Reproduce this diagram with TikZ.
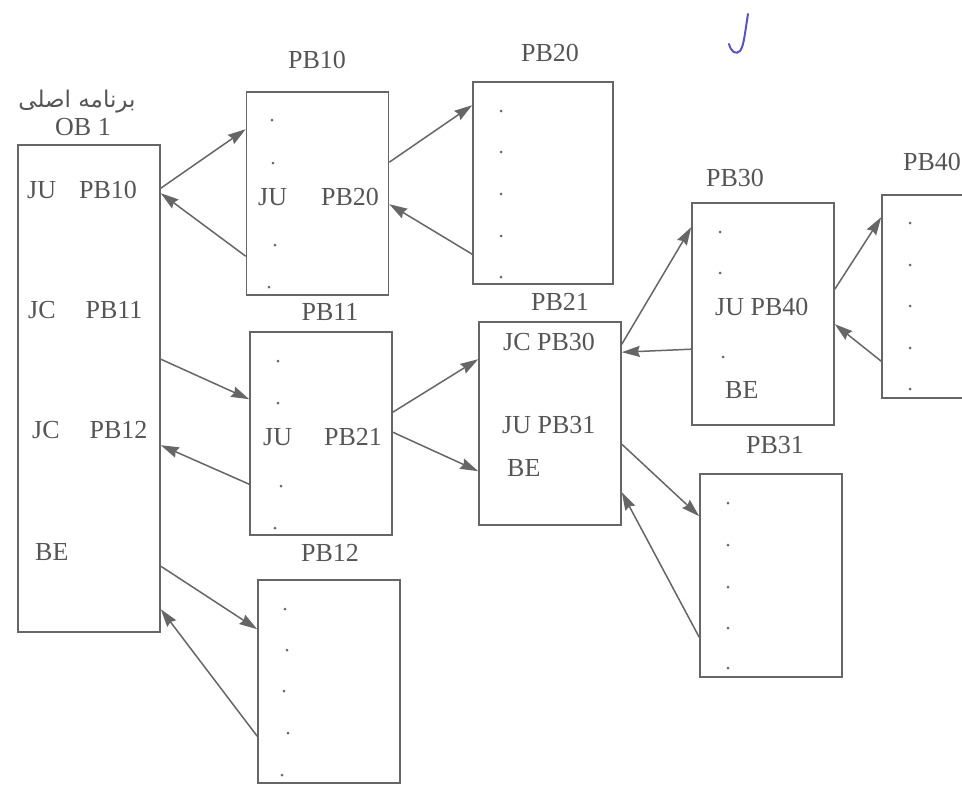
\documentclass[tikz,border=0pt]{standalone}
\usepackage{fontspec}
\setmainfont{Liberation Serif}
\newfontfamily\arabicfont[Script=Arabic]{DejaVu Sans}
\TeXXeTstate=1
\usepackage{xcolor}
\usepackage{tikz}
\usetikzlibrary{arrows.meta,positioning,calc}

\definecolor{inkgray}{HTML}{555555}
\definecolor{linegray}{HTML}{666666}
\definecolor{penblue}{HTML}{5B52C6}

\begin{document}
\begin{tikzpicture}[x=1pt,y=-1pt,
  every node/.style={font=\fontsize{26}{30}\selectfont,text=inkgray},
  blk/.style={draw=linegray,line width=1.6pt,rectangle,inner sep=0pt,minimum width=142pt,minimum height=203pt},
  conn/.style={-{Stealth[length=18pt,width=11pt,inset=2pt]},draw=linegray,fill=linegray,line width=1.5pt},
  txt/.style={anchor=west,inner sep=0pt}]
  \useasboundingbox (0,0) rectangle (962,809);
  \clip (0,0) rectangle (962,809);

  \node[blk,minimum height=487pt] (ob1) at (89,388.5) {};
  \node[blk] (pb10) at (317.5,193.5) {};
  \node[blk,minimum width=140pt,minimum height=202pt] (pb20) at (543,183) {};
  \node[blk] (pb11) at (321,433.5) {};
  \node[blk] (pb12) at (329,681.5) {};
  \node[blk] (pb21) at (550,423.5) {};
  \node[blk,minimum height=222pt] (pb30) at (763,314) {};
  \node[blk] (pb31) at (771,575.5) {};
  \node[blk,minimum width=140pt] (pb40) at (952,296.5) {};

  \node[font=\arabicfont\fontsize{23}{26}\selectfont] (ob1fa) at (77,102) {\beginR برنامه اصلی\endR};
  \node (ob1lbl) at (83,127) {OB 1};
  \node (pb10lbl) at (317,60) {PB10};
  \node (pb20lbl) at (550,53) {PB20};
  \node (pb11lbl) at (330,312) {PB11};
  \node (pb21lbl) at (560,302) {PB21};
  \node (pb12lbl) at (330,553) {PB12};
  \node (pb30lbl) at (735,178) {PB30};
  \node (pb31lbl) at (775,445) {PB31};
  \node (pb40lbl) at (932,162) {PB40};

  \node[txt] (ju10) at (27,190) {JU\hspace{23pt}PB10};
  \node[txt] (jc11) at (28,310) {JC\hspace{30pt}PB11};
  \node[txt] (jc12) at (32,430) {JC\hspace{30pt}PB12};
  \node[txt] (be1) at (35,552) {BE};
  \node[txt] (ju20) at (258,197) {JU\hspace{34pt}PB20};
  \node[txt] (ju21) at (263,437) {JU\hspace{32pt}PB21};
  \node[txt] (jc30) at (503,342) {JC PB30};
  \node[txt] (ju31) at (502,425) {JU PB31};
  \node[txt] (be21) at (507,468) {BE};
  \node[txt] (ju40) at (715,307) {JU PB40};
  \node[txt] (be30) at (725,390) {BE};

  \foreach \x/\y in {272/120,273/163,275/245,269/287,
                     278/361,278/403,281/486,275/528,
                     285/609,287/650,284/691,288/733,282/775,
                     720/232,720/273,723/357}
    \fill[linegray] (\x,\y) circle (1.5pt);
  \foreach \y in {111,152,194,236,277} \fill[linegray] (501,\y) circle (1.5pt);
  \foreach \y in {503,545,587,628,668} \fill[linegray] (728,\y) circle (1.5pt);
  \foreach \y in {223,265,306,348,389} \fill[linegray] (910,\y) circle (1.5pt);

  \draw[conn] ($(ob1.north east)+(0,44)$) -- ($(pb10.north west)+(0,38)$);
  \draw[conn] ($(pb10.north west)+(0,165)$) -- ($(ob1.north east)+(0,49)$);
  \draw[conn] ($(ob1.north east)+(0,215)$) -- ($(pb11.north west)+(0,68)$);
  \draw[conn] ($(pb11.north west)+(0,153)$) -- ($(ob1.north east)+(0,301)$);
  \draw[conn] ($(ob1.north east)+(0,422)$) -- ($(pb12.north west)+(0,50)$);
  \draw[conn] ($(pb12.north west)+(0,157)$) -- ($(ob1.north east)+(0,465)$);
  \draw[conn] ($(pb10.north east)+(0,71)$) -- ($(pb20.north west)+(0,24)$);
  \draw[conn] ($(pb20.north west)+(0,173)$) -- ($(pb10.north east)+(0,113)$);
  \draw[conn] ($(pb11.north east)+(0,81)$) -- ($(pb21.north west)+(0,38)$);
  \draw[conn] ($(pb11.north east)+(0,101)$) -- ($(pb21.north west)+(0,150)$);
  \draw[conn] ($(pb21.north east)+(0,23)$) -- ($(pb30.north west)+(0,25)$);
  \draw[conn] ($(pb30.north west)+(0,147)$) -- ($(pb21.north east)+(0,31)$);
  \draw[conn] ($(pb21.north east)+(0,123)$) -- ($(pb31.north west)+(0,43)$);
  \draw[conn] ($(pb31.north west)+(0,164)$) -- ($(pb21.north east)+(0,171)$);
  \draw[conn] ($(pb30.north east)+(0,87)$) -- ($(pb40.north west)+(0,23)$);
  \draw[conn] ($(pb40.north west)+(0,167)$) -- ($(pb30.north east)+(0,122)$);

  \draw[penblue,line width=2pt,line cap=round] (748,14) .. controls (745,32) and (744,46) .. (740,51) .. controls (736,55) and (731,52) .. (729,44);
\end{tikzpicture}
\end{document}
